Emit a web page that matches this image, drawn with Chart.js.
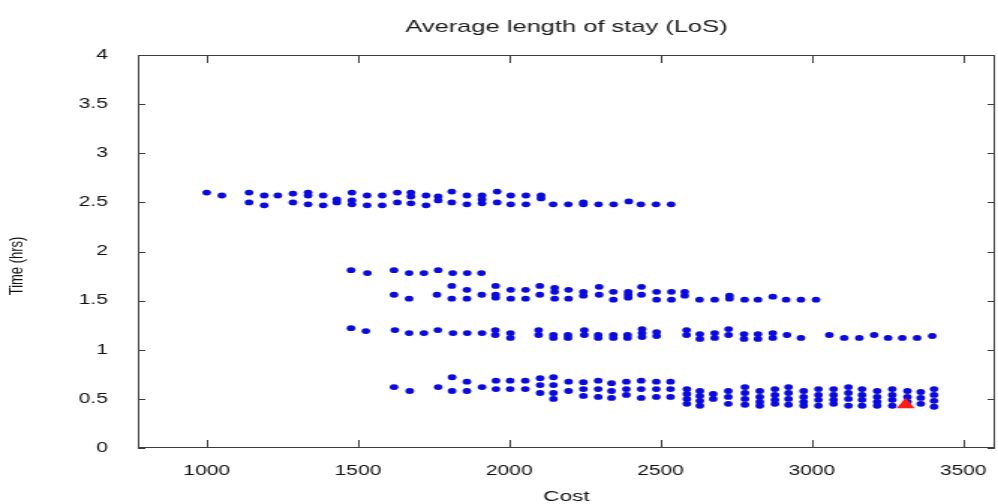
<!DOCTYPE html>
<html>
<head>
<meta charset="utf-8">
<script src="https://cdn.jsdelivr.net/npm/chart.js@4"></script>
<style>
html,body{margin:0;padding:0;background:#fff;overflow:hidden;width:998px;height:504px;}
#c{display:block;width:671px;height:504px;transform:scaleX(1.4985);transform-origin:0 0;}
</style>
</head>
<body>
<canvas id="c" width="671" height="504"></canvas>
<script>
// ---- data ----
const xTickVals = [1000, 1500, 2000, 2500, 3000, 3500];
const yTickVals = [0, 0.5, 1, 1.5, 2, 2.5, 3, 3.5, 4];

// band near 2.5 h
const band25Cost = [1000,1050,1140,1190,1235,1285,1335,1385,1430,1480,1530,1580,1630,1675,1725,
  1765,1810,1860,1910,1960,2005,2055,2105,2145,2195,2245,2295,2345,2395,2435,2485,2535];
const band25Time = [[2.6],[2.57],[2.6,2.5],[2.57,2.47],[2.57],[2.59,2.5],[2.6,2.57,2.48],[2.57,2.47],
  [2.53,2.5],[2.6,2.52,2.48],[2.57,2.47],[2.57,2.47],[2.6,2.5],[2.6,2.56,2.49],[2.57,2.47],
  [2.56,2.52],[2.61,2.5],[2.57,2.48],[2.57,2.53,2.49],[2.61,2.5],[2.57,2.48],[2.57,2.48],[2.57,2.54],
  [2.48],[2.48],[2.5,2.48],[2.48],[2.48],[2.51],[2.48],[2.48],[2.48]];

// band near 1.8 h
const band18Cost = [1477,1531,1619,1669,1718,1765,1813,1861,1908];
const band18Time = [[1.81],[1.78],[1.81],[1.78],[1.78],[1.81],[1.78],[1.78],[1.78]];

// band near 1.55 h
const band15Cost = [1619,1669,1761,1810,1860,1909,1955,2005,2054,2101,2150,2196,2245,
  2297,2344,2393,2437,2487,2536,2580,2629,2679,2728,2778,2822,2871,2915,2964,3014];
const band15Time = [[1.56],[1.52],[1.56],[1.65,1.52],[1.61,1.52],[1.56],[1.65,1.56,1.53],[1.61,1.52],
  [1.61,1.52],[1.65,1.56],[1.63,1.59,1.52],[1.61,1.52],[1.59,1.55],
  [1.64,1.56],[1.59,1.51],[1.59,1.56,1.53],[1.64,1.56],[1.59,1.51],[1.59,1.51],[1.59,1.55],
  [1.51],[1.51],[1.55,1.52],[1.51],[1.51],[1.54],[1.51],[1.51],[1.51]];

// band near 1.15 h
const band11Cost = [1477,1526,1622,1669,1718,1764,1814,1861,1910,1954,2004,2097,2146,2194,2248,
  2294,2344,2391,2439,2487,2586,2630,2679,2725,2776,2822,2871,2918,2964,3058,3107,3157,3206,
  3252,3299,3348,3398];
const band11Time = [[1.22],[1.19],[1.2],[1.17],[1.17],[1.2],[1.17],[1.17],[1.17],[1.2,1.15],[1.17,1.12],
  [1.2,1.15],[1.15,1.12],[1.15,1.12],[1.2,1.15],[1.15,1.12],[1.15,1.12],[1.15,1.12],[1.21,1.17,1.13],
  [1.18,1.14],[1.2,1.15],[1.16,1.11],[1.17,1.12],[1.21,1.15],[1.16,1.11],[1.16,1.11],[1.17,1.12],
  [1.15],[1.12],[1.15],[1.12],[1.12],[1.15],[1.12],[1.12],[1.12],[1.14]];

// band near 0.55 h
const band05Cost = [1619,1671,1765,1811,1860,1910,1956,2003,2053,2102,2146,2196,2245,2294,2338,
  2387,2436,2486,2533,2587,2630,2674,2724,2779,2828,2878,2923,2973,3022,3072,3121,3166,3216,
  3266,3316,3360,3404];
const band05Time = [[0.62],[0.58],[0.62],[0.72,0.58],[0.675,0.58],[0.62],[0.685,0.6],[0.685,0.6],
  [0.685,0.6],[0.71,0.64,0.56],[0.72,0.64,0.56,0.5],[0.675,0.58],[0.67,0.6,0.53],[0.685,0.6,0.52],
  [0.66,0.58,0.51],[0.675,0.6,0.54],[0.685,0.6,0.51],[0.675,0.6,0.52],[0.675,0.6,0.52],
  [0.6,0.55,0.5,0.45],[0.58,0.53,0.48,0.43],[0.55,0.5],[0.58,0.52,0.45],[0.62,0.56,0.5,0.44],
  [0.58,0.52,0.47,0.43],[0.6,0.54,0.49,0.45],[0.62,0.56,0.5,0.44],[0.58,0.52,0.47,0.43],
  [0.6,0.54,0.49,0.43],[0.6,0.54,0.49,0.45],[0.62,0.56,0.5,0.43],[0.6,0.54,0.49,0.43],
  [0.58,0.52,0.47,0.43],[0.6,0.54,0.49,0.43],[0.58,0.52,0.47],[0.57,0.51,0.45],[0.6,0.54,0.48,0.42]];

// highlighted solution
const bestCost = [3310];
const bestTime = [0.44];

// ---- build point lists ----
function toPoints(costs, times) {
  const pts = [];
  costs.forEach((c, i) => times[i].forEach(t => pts.push({x: c, y: t})));
  return pts;
}
const bluePts = [].concat(
  toPoints(band25Cost, band25Time),
  toPoints(band18Cost, band18Time),
  toPoints(band15Cost, band15Time),
  toPoints(band11Cost, band11Time),
  toPoints(band05Cost, band05Time)
);
const redPts = bestCost.map((c, i) => ({x: c, y: bestTime[i]}));

const FONT = "'Liberation Sans', Arial, Helvetica, sans-serif";

function seg(ctx, x1, y1, x2, y2) {
  ctx.beginPath(); ctx.moveTo(x1, y1); ctx.lineTo(x2, y2); ctx.stroke();
}
const framePlugin = {
  id: 'frame',
  afterDraw(chart) {
    const {ctx, chartArea, scales: {x, y}} = chart;
    const left = Math.round(chartArea.left), right = Math.round(chartArea.right);
    const top = Math.round(chartArea.top), bottom = Math.round(chartArea.bottom);
    ctx.save();
    ctx.strokeStyle = '#3c3c3c';
    ctx.lineWidth = 1;
    seg(ctx, left, top + 0.5, right, top + 0.5);
    seg(ctx, left, bottom - 0.5, right, bottom - 0.5);
    seg(ctx, left + 0.5, top, left + 0.5, bottom);
    seg(ctx, right - 0.5, top, right - 0.5, bottom);
    xTickVals.forEach(v => {
      const px = Math.round(x.getPixelForValue(v)) + 0.5;
      seg(ctx, px, bottom, px, bottom - 8);
      seg(ctx, px, top, px, top + 8);
    });
    yTickVals.forEach(v => {
      const py = Math.round(y.getPixelForValue(v)) + 0.5;
      seg(ctx, left, py, left + 5, py);
      seg(ctx, right, py, right - 5, py);
    });
    ctx.restore();
  }
};

new Chart(document.getElementById('c'), {
  type: 'scatter',
  data: {
    datasets: [
      {data: redPts, pointStyle: 'triangle', pointRadius: 7, backgroundColor: '#ff1a1a', borderWidth: 0},
      {data: bluePts, pointStyle: 'circle', pointRadius: 2.9, backgroundColor: '#0a0adc', borderWidth: 0}
    ]
  },
  options: {
    responsive: false,
    animation: false,
    devicePixelRatio: 1,
    layout: {padding: 0},
    plugins: {
      legend: {display: false},
      tooltip: {enabled: false},
      title: {
        display: true, fullSize: false,
        text: 'Average length of stay (LoS)',
        color: '#1a1a1a',
        font: {family: FONT, size: 17, weight: 'normal'},
        padding: {top: 17, bottom: 17.6}
      }
    },
    scales: {
      x: {
        type: 'linear', min: 772.5, max: 3605.5,
        grid: {display: false, drawTicks: false},
        border: {display: false},
        afterBuildTicks: s => { s.ticks = xTickVals.map(v => ({value: v})); },
        afterFit: s => { s.height = 56; s.paddingLeft = 0; s.paddingRight = 0; },
        ticks: {padding: 15, color: '#111', font: {family: FONT, size: 14}, maxRotation: 0,
          callback: v => String(v)},
        title: {display: true, text: 'Cost', color: '#111', font: {family: FONT, size: 15}, padding: {top: 0, bottom: -2}}
      },
      y: {
        type: 'linear', min: 0, max: 4,
        grid: {display: false, drawTicks: false},
        border: {display: false},
        afterBuildTicks: s => { s.ticks = yTickVals.map(v => ({value: v})); },
        afterFit: s => { s.width = 92; s.paddingTop = 0; s.paddingBottom = 0; },
        ticks: {padding: 20, color: '#111', font: {family: FONT, size: 14},
          callback: v => String(v)},
        title: {display: true, text: 'Time (hrs)        ', color: '#111', font: {family: FONT, size: 13}, padding: {top: 4, bottom: 0}}
      }
    }
  },
  plugins: [framePlugin]
});
</script>
</body>
</html>
